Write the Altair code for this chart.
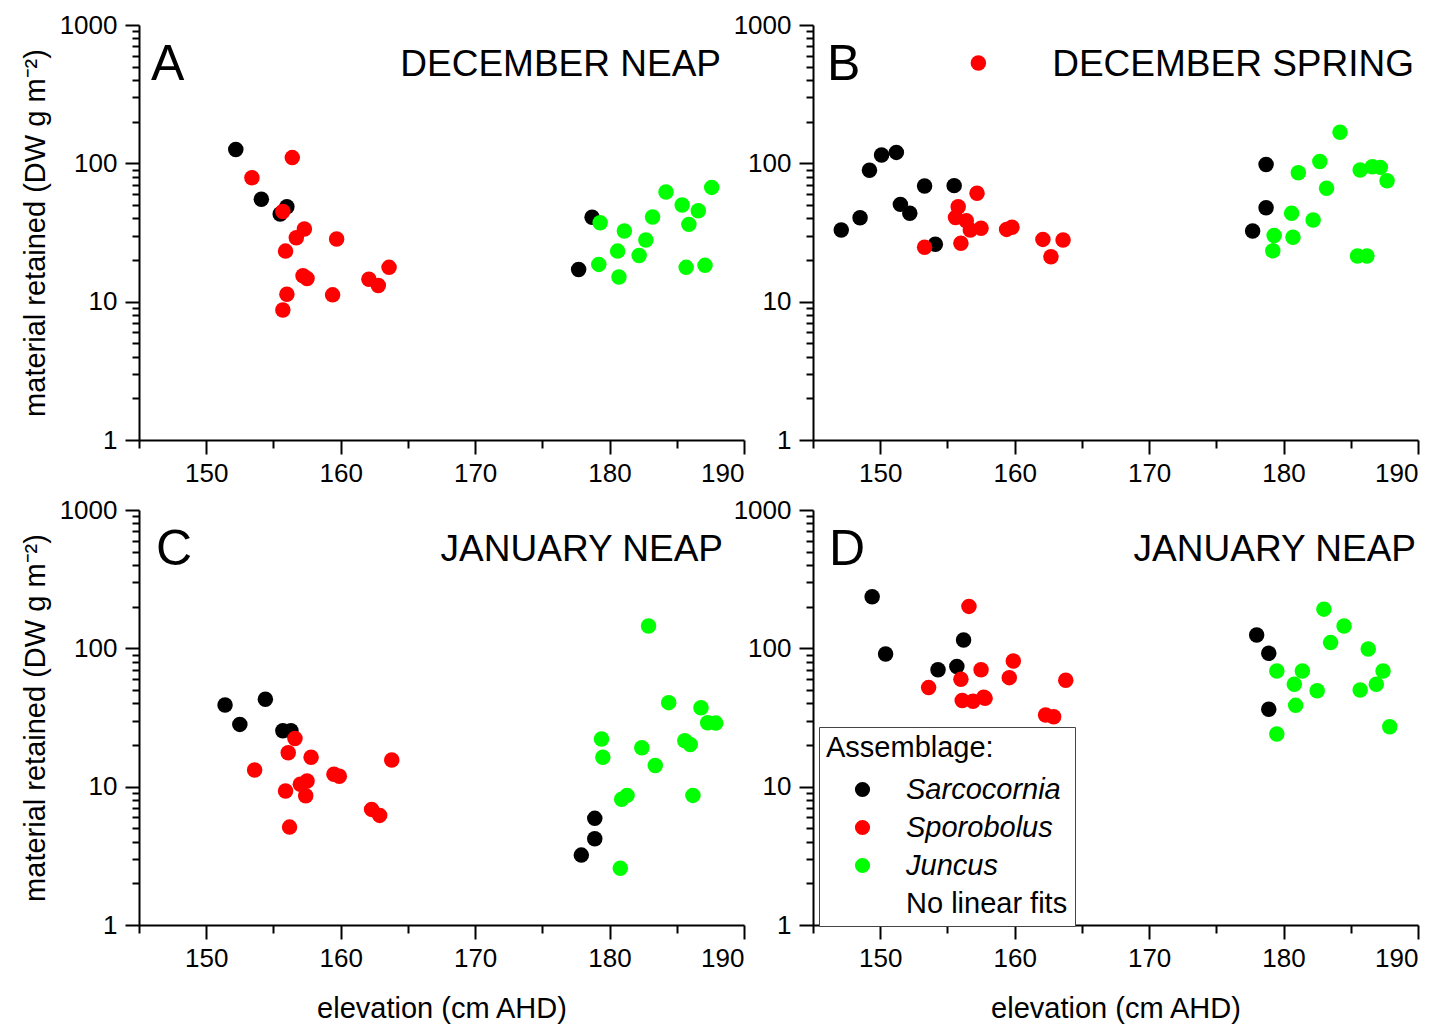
import altair as alt
import pandas as pd

FONT = "Liberation Sans"
species = ["Sarcocornia", "Sporobolus", "Juncus"]
legend_entries = species + ["No linear fits"]
colors = ["#000000", "#ff0000", "#00ff00", "transparent"]

# Panel A - December neap
a_sarc_x = [152.2, 154.1, 156.0, 155.5, 178.7, 177.7]
a_sarc_y = [126, 55, 48.5, 43, 40.7, 17.1]
a_spor_x = [156.4, 153.4, 155.7, 157.3, 156.7, 159.7, 155.9, 157.2, 157.5, 163.6, 162.1, 162.8, 156.0, 159.4, 155.7]
a_spor_y = [110, 78.7, 44.8, 33.5, 29, 28.4, 23.2, 15.4, 14.7, 17.7, 14.5, 13.1, 11.3, 11.2, 8.7]
a_junc_x = [179.3, 181.1, 183.2, 184.2, 187.6, 185.4, 186.6, 185.9, 182.7, 180.6, 182.2, 179.2, 180.7, 185.7, 187.1]
a_junc_y = [37.2, 32.4, 41, 62, 67, 50, 45.4, 36.2, 27.9, 23.2, 21.6, 18.6, 15.1, 17.7, 18.3]

# Panel B - December spring
b_sarc_x = [147.1, 148.5, 149.2, 150.1, 151.2, 153.3, 155.5, 151.5, 152.2, 154.1, 178.7, 178.7, 177.7]
b_sarc_y = [33, 40.4, 89, 115, 120, 68.5, 69, 50.5, 43.5, 26, 98, 47.8, 32.4]
b_spor_x = [157.2, 155.8, 155.6, 156.4, 156.7, 157.5, 159.4, 159.8, 156.0, 153.3, 162.1, 163.6, 162.7, 157.3]
b_spor_y = [60.7, 48.6, 40.6, 38.4, 33, 33.9, 33.3, 34.5, 26.4, 24.7, 28.2, 27.9, 21.1, 531]
b_junc_x = [184.2, 182.7, 181.1, 183.2, 185.7, 186.6, 187.2, 187.7, 180.6, 182.2, 179.3, 180.7, 179.2, 185.5, 186.2]
b_junc_y = [168, 103, 85.5, 66, 89.5, 94.6, 93.5, 74.8, 43.5, 38.9, 30.1, 29.2, 23.3, 21.4, 21.4]

# Panel C - January neap
c_sarc_x = [151.4, 154.4, 152.5, 155.7, 156.3, 178.9, 178.9, 177.9]
c_sarc_y = [39, 42.8, 28.2, 25.4, 25.4, 5.9, 4.2, 3.2]
c_spor_x = [156.6, 156.1, 157.8, 163.8, 153.6, 159.5, 159.9, 157.5, 157.0, 155.9, 157.4, 162.3, 162.9, 156.2]
c_spor_y = [22.3, 17.6, 16.3, 15.6, 13.2, 12.3, 11.9, 11.0, 10.4, 9.3, 8.6, 6.85, 6.2, 5.1]
c_junc_x = [182.9, 184.4, 186.8, 187.3, 187.9, 179.4, 182.4, 185.6, 186.0, 179.5, 183.4, 181.3, 180.9, 186.2, 180.8]
c_junc_y = [145, 40.5, 37.2, 29, 28.8, 22.1, 19.1, 21.5, 20.2, 16.3, 14.2, 8.65, 8.1, 8.65, 2.57]

# Panel D - January neap
d_sarc_x = [149.4, 150.4, 156.2, 154.3, 155.7, 178.0, 178.9, 178.9]
d_sarc_y = [236, 91, 115, 70, 73.8, 125, 92, 36.3]
d_spor_x = [156.6, 159.9, 157.5, 159.6, 156.0, 163.8, 153.6, 156.1, 156.9, 157.7, 157.8, 162.3, 162.9]
d_spor_y = [201, 80.9, 70, 61.4, 59.7, 58.7, 52, 41.9, 41.4, 44.3, 43.5, 33, 32]
d_junc_x = [183.0, 184.5, 183.5, 186.3, 179.5, 181.4, 187.4, 180.8, 186.9, 182.5, 185.7, 180.9, 179.5, 187.9]
d_junc_y = [192, 145, 110, 99, 68.5, 68.5, 68.5, 55, 55, 49.4, 50, 38.7, 24, 27.1]

x_ticks = [145, 150, 155, 160, 165, 170, 175, 180, 185, 190]
y_ticks = [m * d for d in (1, 10, 100) for m in range(1, 10)] + [1000]

W, H = 605, 415


def frame(sx, sy, px, py, jx, jy):
    rows = []
    for name, xs, ys in ((species[0], sx, sy), (species[1], px, py), (species[2], jx, jy)):
        for xv, yv in zip(xs, ys):
            rows.append({"elev": xv, "mat": yv, "assemblage": name})
    return pd.DataFrame(rows)


def panel(df, letter, title, letter_x, title_x, show_xtitle, show_ytitle, legend):
    x_axis = alt.Axis(
        values=x_ticks,
        labelExpr="datum.value % 10 == 0 ? datum.label : ''",
        tickSize={"condition": {"test": "datum.value % 10 == 0", "value": 14}, "value": 8},
        title="elevation (cm AHD)" if show_xtitle else None,
        titlePadding=23,
        labelPadding=6,
        format="d",
    )
    y_axis = alt.Axis(
        values=y_ticks,
        labelExpr="indexof([1, 10, 100, 1000], datum.value) >= 0 ? format(datum.value, 'd') : ''",
        tickSize={"condition": {"test": "indexof([1, 10, 100, 1000], datum.value) >= 0", "value": 14}, "value": 7},
        title="material retained (DW g m\u207b\u00b2)" if show_ytitle else None,
        titlePadding=9,
        labelPadding=8,
    )
    color_kwargs = dict(
        scale=alt.Scale(domain=legend_entries, range=colors),
        legend=legend,
    )
    pts = alt.Chart(df).mark_circle(size=240, opacity=1).encode(
        x=alt.X("elev:Q", scale=alt.Scale(domain=[145, 190], nice=False, zero=False), axis=x_axis),
        y=alt.Y("mat:Q", scale=alt.Scale(type="log", domain=[1, 1000], nice=False), axis=y_axis),
        color=alt.Color("assemblage:N", **color_kwargs),
    )
    lt = alt.Chart(pd.DataFrame({"t": [letter]})).mark_text(
        align="left", baseline="alphabetic", fontSize=50, font=FONT, color="black"
    ).encode(text="t:N", x=alt.value(letter_x), y=alt.value(55))
    tt = alt.Chart(pd.DataFrame({"t": [title]})).mark_text(
        align="right", baseline="alphabetic", fontSize=37, font=FONT, color="black"
    ).encode(text="t:N", x=alt.value(title_x), y=alt.value(51))
    return alt.layer(pts, lt, tt).properties(width=W, height=H)


legend_d = alt.Legend(
    title="Assemblage:",
    orient="none",
    legendX=6,
    legendY=217,
    direction="vertical",
    fillColor="white",
    strokeColor="#444444",
    padding=7,
    titleFont=FONT,
    titleFontSize=29,
    titleFontWeight="normal",
    titleColor="black",
    titlePadding=12,
    labelFont=FONT,
    labelFontSize=29,
    labelColor="black",
    labelFontStyle={"expr": "datum.label == 'No linear fits' ? 'normal' : 'italic'"},
    labelLimit=500,
    symbolType="circle",
    symbolSize=230,
    symbolStrokeWidth=0,
    symbolOffset=22,
    labelOffset=29,
    rowPadding=8,
)

pa = panel(frame(a_sarc_x, a_sarc_y, a_spor_x, a_spor_y, a_junc_x, a_junc_y),
           "A", "DECEMBER NEAP", 12, 582, False, True, None)
pb = panel(frame(b_sarc_x, b_sarc_y, b_spor_x, b_spor_y, b_junc_x, b_junc_y),
           "B", "DECEMBER SPRING", 14, 601, False, False, None)
pc = panel(frame(c_sarc_x, c_sarc_y, c_spor_x, c_spor_y, c_junc_x, c_junc_y),
           "C", "JANUARY NEAP", 17, 584, True, True, None)
pd_ = panel(frame(d_sarc_x, d_sarc_y, d_spor_x, d_spor_y, d_junc_x, d_junc_y),
            "D", "JANUARY NEAP", 16, 603, True, False, legend_d)

chart = alt.concat(
    pa, pb, pc, pd_, columns=2, spacing={"row": 70, "column": 69}, bounds="flush"
).resolve_legend(color="independent").configure_axis(
    domainColor="black",
    domainWidth=2,
    tickColor="black",
    tickWidth=2,
    labelFont=FONT,
    labelFontSize=26,
    labelColor="black",
    titleFont=FONT,
    titleFontSize=29,
    titleFontWeight="normal",
    titleColor="black",
    grid=False,
).configure_view(stroke=None).properties(
    background="white", padding={"left": 13, "top": 4, "right": 5, "bottom": 5}
)

chart.save("out.html", embed_options={"renderer": "svg", "actions": False})
